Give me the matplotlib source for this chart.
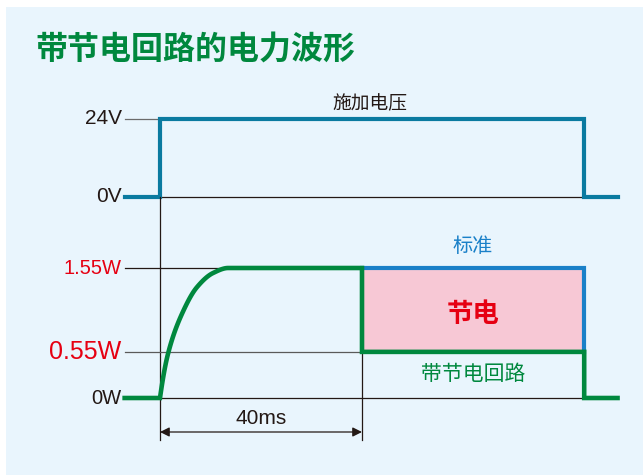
import matplotlib
matplotlib.use("Agg")
import matplotlib.pyplot as plt
import numpy as np

plt.rcParams['font.family'] = ['Liberation Sans', 'Noto Sans CJK SC', 'DejaVu Sans']

# ---- data ----
title = "带节电回路的电力波形"
volt_levels = [0, 24]
volt_labels = ["0V", "24V"]
volt_t = [-7, 0, 0, 84, 84, 90.6]
volt_v = [0, 0, 24, 24, 0, 0]

power_levels = [0, 0.55, 1.55]
power_labels = ["0W", "0.55W", "1.55W"]
curve_t = [0, 1.6, 4.4, 7.3, 10.5, 13.5]
curve_p = [0, 0.53, 1.01, 1.32, 1.49, 1.55]
saving_t = [40, 84]            # power-saving interval (ms)
standard_p = 1.55
saving_p = 0.55
end_t = 90.6
start_t = -7
dim_ms = 40

CJK = ['Noto Sans CJK SC', 'DejaVu Sans']
BG = '#e9f5fd'
VBLUE = '#0a7aa0'
SBLUE = '#1a80c8'
GREEN = '#00883e'
RED = '#e60012'
PINK = '#f7c8d5'
DARK = '#231815'


def pchip(x, y, xf):
    """Monotone cubic (Fritsch-Carlson) interpolation."""
    x = np.asarray(x, float); y = np.asarray(y, float)
    h = np.diff(x); d = np.diff(y) / h
    m = np.zeros_like(y)
    for i in range(1, len(x) - 1):
        if d[i - 1] * d[i] > 0:
            w1 = 2 * h[i] + h[i - 1]; w2 = h[i] + 2 * h[i - 1]
            m[i] = (w1 + w2) / (w1 / d[i - 1] + w2 / d[i])
    m[0] = d[0] * 1.3
    m[-1] = 0.0
    out = np.empty_like(xf)
    for j, xv in enumerate(xf):
        i = min(np.searchsorted(x, xv, side='right') - 1, len(x) - 2)
        i = max(i, 0)
        t = (xv - x[i]) / h[i]
        h00 = 2 * t**3 - 3 * t**2 + 1; h10 = t**3 - 2 * t**2 + t
        h01 = -2 * t**3 + 3 * t**2; h11 = t**3 - t**2
        out[j] = h00 * y[i] + h10 * h[i] * m[i] + h01 * y[i + 1] + h11 * h[i] * m[i + 1]
    return out


W, H = 643, 475
fig = plt.figure(figsize=(W / 100, H / 100), dpi=100)
fig.patch.set_facecolor('white')
bg = plt.Rectangle((6 / W, 0), 1, 1 - 7 / H, transform=fig.transFigure,
                   facecolor=BG, edgecolor='none', zorder=-10)
fig.add_artist(bg)

pxms = (362 - 160) / 40.0
xl = (0 - 160) / pxms
xr = (W - 160) / pxms

def make_ax(y0px, vpp):
    ax = fig.add_axes([0, 0, 1, 1])
    ax.set_zorder(5)
    ax.set_xlim(xl, xr)
    ax.set_ylim(-(H - y0px) * vpp, y0px * vpp)
    ax.axis('off')
    ax.patch.set_alpha(0)
    return ax

vpp_v = 24 / (197 - 119)
axv = make_ax(197, vpp_v)
vpp_p = 1.55 / (398 - 268)
axp = make_ax(398, vpp_p)

# ---- voltage panel ----
axv.plot([start_t, 0], [24, 24], color='#6b6b6b', lw=0.9, zorder=1)
axv.plot([0, 84], [0, 0], color=DARK, lw=0.9, zorder=1)
axv.plot(volt_t, volt_v, color=VBLUE, lw=3.0, solid_joinstyle='miter', zorder=3)
for lv, lb in zip(volt_levels, volt_labels):
    axv.text(start_t - 0.6, lv, lb, ha='right', va='center', fontsize=15, color=DARK)
axv.text(41.5, 24 + 15 * vpp_v, "施加电压", ha='center', va='center', fontsize=13.5,
         color=DARK, family=CJK)

# vertical guides
ybot = -(440 - 398) * vpp_p
axp.plot([0, 0], [ybot, (398 - 197) * vpp_p], color=DARK, lw=0.9, zorder=1)
axp.plot([dim_ms, dim_ms], [ybot, saving_p], color=DARK, lw=0.9, zorder=1)

# ---- power panel ----
axp.plot([start_t, curve_t[-1]], [1.55, 1.55], color=DARK, lw=0.9, zorder=1)
axp.plot([start_t, saving_t[0]], [0.55, 0.55], color='#5a5a5a', lw=0.9, zorder=1)
axp.plot([0, saving_t[1]], [0, 0], color=DARK, lw=0.9, zorder=1)

axp.fill_between(saving_t, saving_p, standard_p, color=PINK, lw=0, zorder=2)
axp.plot([saving_t[0], saving_t[1], saving_t[1]], [standard_p, standard_p, saving_p],
         color=SBLUE, lw=3.0, solid_joinstyle='miter', zorder=3)

tf = np.linspace(curve_t[0], curve_t[-1], 120)
pf = np.clip(pchip(curve_t, curve_p, tf), 0, 1.55)
gx = np.concatenate([[start_t], tf, [saving_t[0], saving_t[0], saving_t[1], saving_t[1], end_t]])
gy = np.concatenate([[0], pf, [standard_p, saving_p, saving_p, 0, 0]])
axp.plot(gx, gy, color=GREEN, lw=3.3, solid_joinstyle='miter', zorder=4)

axp.text(start_t - 0.6, 0, "0W", ha='right', va='center', fontsize=14.5, color=DARK)
axp.text(start_t - 0.6, 0.55, "0.55W", ha='right', va='center', fontsize=18, color=RED)
axp.text(start_t - 0.6, 1.55, "1.55W", ha='right', va='center', fontsize=14.5, color=RED)

mid = sum(saving_t) / 2
axp.text(mid, 1.55 + 21 * vpp_p, "标准", ha='center', va='center', fontsize=14.5,
         color=SBLUE, family=CJK)
axp.text(mid, 1.0, "节电", ha='center', va='center', fontsize=19, color=RED,
         family=CJK, fontweight='bold')
axp.text(mid, 0.55 - 22 * vpp_p, "带节电回路", ha='center', va='center', fontsize=15,
         color=GREEN, family=CJK)

ya = -(432 - 398) * vpp_p
axp.annotate('', xy=(0, ya), xytext=(dim_ms, ya),
             arrowprops=dict(arrowstyle='<|-|>', color=DARK, lw=0.9,
                             mutation_scale=14, shrinkA=0, shrinkB=0))
axp.text(dim_ms / 2, -(418 - 398) * vpp_p, f"{dim_ms}ms", ha='center', va='center',
         fontsize=15, color=DARK)

fig.text(35 / W, 1 - 50 / H, title, ha='left', va='center', fontsize=23,
         color=GREEN, family=CJK, fontweight='bold')

fig.savefig('out.png', dpi=100, facecolor=fig.get_facecolor())
